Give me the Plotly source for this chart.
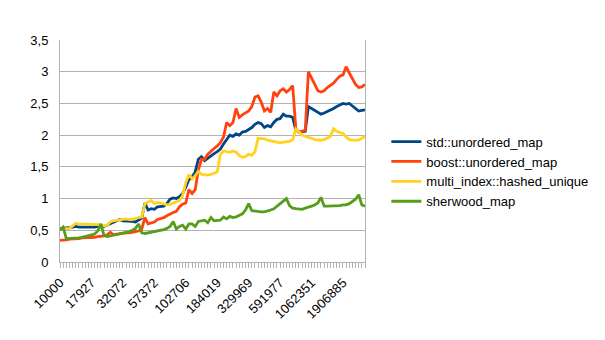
import plotly.graph_objects as go

# Category tick labels shown (every 10th category of the 98 sizes)
tick_labels = ["10000", "17927", "32072", "57372", "102706", "184019",
               "329969", "591977", "1062351", "1906885"]
label_step = 10
n_points = 98

series_names = ["std::unordered_map", "boost::unordered_map",
                "multi_index::hashed_unique", "sherwood_map"]

std_unordered = [
    0.53, 0.53, 0.54, 0.54, 0.55, 0.56, 0.55, 0.55, 0.54, 0.55,
    0.55, 0.55, 0.56, 0.55, 0.56, 0.58, 0.60, 0.62, 0.65, 0.67,
    0.65, 0.65, 0.64, 0.64, 0.63, 0.66, 0.69, 0.93, 0.82, 0.84,
    0.83, 0.87, 0.88, 0.88, 0.92, 0.99, 1.01, 1.00, 1.03, 1.08,
    1.18, 1.30, 1.34, 1.42, 1.62, 1.66, 1.60, 1.64, 1.68, 1.71,
    1.74, 1.78, 1.86, 1.94, 2.00, 1.98, 2.02, 2.00, 2.05, 2.06,
    2.09, 2.12, 2.17, 2.20, 2.18, 2.12, 2.15, 2.13, 2.20, 2.25,
    2.26, 2.33, 2.30, 2.30, 2.28, 2.08, 2.05, 2.05, 2.06, 2.45,
    2.42, 2.38, 2.35, 2.33, 2.35, 2.37, 2.39, 2.42, 2.45, 2.48,
    2.50, 2.49, 2.50, 2.46, 2.42, 2.38, 2.39, 2.40,
]

boost_unordered = [
    0.34, 0.34, 0.35, 0.36, 0.36, 0.37, 0.37, 0.38, 0.38, 0.39,
    0.39, 0.39, 0.40, 0.40, 0.41, 0.43, 0.47, 0.43, 0.44, 0.45,
    0.45, 0.46, 0.46, 0.47, 0.48, 0.49, 0.52, 0.70, 0.60, 0.62,
    0.63, 0.67, 0.68, 0.70, 0.73, 0.76, 0.78, 0.80, 0.87, 0.91,
    0.93, 1.14, 1.08, 1.14, 1.45, 1.62, 1.62, 1.70, 1.75, 1.79,
    1.83, 1.88, 1.97, 2.20, 2.15, 2.20, 2.42, 2.28, 2.32, 2.35,
    2.38, 2.45, 2.60, 2.62, 2.52, 2.38, 2.42, 2.36, 2.68, 2.62,
    2.70, 2.73, 2.68, 2.72, 2.78, 2.10, 2.05, 2.06, 2.08, 3.00,
    2.90, 2.80, 2.70, 2.68, 2.70, 2.75, 2.78, 2.82, 2.88, 2.93,
    2.95, 3.08, 2.98, 2.88, 2.80, 2.75, 2.76, 2.80,
]

multi_index = [
    0.52, 0.52, 0.52, 0.53, 0.57, 0.61, 0.60, 0.60, 0.59, 0.59,
    0.60, 0.59, 0.59, 0.58, 0.57, 0.58, 0.63, 0.65, 0.66, 0.67,
    0.67, 0.68, 0.67, 0.67, 0.69, 0.70, 0.71, 0.92, 0.95, 0.97,
    0.92, 0.94, 0.93, 0.91, 0.90, 0.91, 0.93, 0.95, 0.97, 1.05,
    1.25, 1.38, 1.31, 1.36, 1.43, 1.38, 1.37, 1.37, 1.38, 1.40,
    1.42, 1.70, 1.75, 1.74, 1.73, 1.75, 1.73, 1.68, 1.65, 1.66,
    1.70, 1.68, 1.74, 1.95, 1.95, 1.94, 1.92, 1.91, 1.90, 1.89,
    1.88, 1.89, 1.90, 1.90, 1.93, 2.10, 2.05, 2.00, 1.98, 1.97,
    1.95, 1.93, 1.92, 1.92, 1.93, 1.95, 1.98, 2.10, 2.06, 2.04,
    2.03, 1.97, 1.93, 1.92, 1.92, 1.92, 1.95, 1.98,
]

sherwood = [
    0.50, 0.55, 0.37, 0.37, 0.37, 0.38, 0.38, 0.39, 0.40, 0.41,
    0.42, 0.44, 0.49, 0.60, 0.42, 0.40, 0.41, 0.42, 0.43, 0.44,
    0.45, 0.46, 0.48, 0.50, 0.53, 0.60, 0.46, 0.45, 0.46, 0.47,
    0.47, 0.48, 0.49, 0.51, 0.53, 0.56, 0.64, 0.52, 0.56, 0.58,
    0.52, 0.60, 0.60, 0.56, 0.64, 0.65, 0.66, 0.62, 0.70, 0.65,
    0.65, 0.66, 0.71, 0.68, 0.72, 0.70, 0.71, 0.73, 0.76, 0.82,
    0.92, 0.81, 0.80, 0.80, 0.79, 0.79, 0.80, 0.82, 0.84, 0.88,
    0.93, 0.97, 1.00, 0.89, 0.85, 0.84, 0.83, 0.83, 0.85, 0.86,
    0.88, 0.90, 0.93, 1.02, 0.88, 0.88, 0.88, 0.88, 0.88, 0.89,
    0.90, 0.90, 0.92, 0.95, 0.99, 1.06, 0.90, 0.88,
]

colors = ["#004586", "#ff420e", "#ffd320", "#579d1c"]
all_series = [std_unordered, boost_unordered, multi_index, sherwood]

x_idx = list(range(n_points))
tickvals = x_idx
ticktext = [""] * n_points
for k, lab in enumerate(tick_labels):
    ticktext[k * label_step] = lab

FONT = "Liberation Sans, Arial, sans-serif"
GRID = "#b3b3b3"

fig = go.Figure()
for name, vals, col in zip(series_names, all_series, colors):
    fig.add_trace(go.Scatter(x=x_idx, y=vals, mode="lines", name=name,
                             line=dict(color=col, width=2.8)))

fig.update_layout(
    width=605, height=340,
    margin=dict(l=60, r=235, t=40, b=78),
    paper_bgcolor="white", plot_bgcolor="white",
    separators=",.",
    font=dict(family=FONT, size=13, color="#000000"),
    showlegend=True,
    legend=dict(x=1.07, y=0.61, xanchor="left", yanchor="top",
                font=dict(family=FONT, size=13, color="#000000"),
                tracegroupgap=0, itemwidth=30, bgcolor="rgba(0,0,0,0)"),
)
fig.update_xaxes(
    range=[0, n_points - 1], tickmode="array", tickvals=tickvals,
    ticktext=ticktext, tickangle=-45, ticks="outside", ticklen=5,
    tickcolor=GRID, showgrid=False, showline=True, linecolor=GRID,
    linewidth=1, mirror=False, zeroline=False, ticklabelstandoff=2,
    tickfont=dict(family=FONT, size=13, color="#000000"),
)
fig.update_yaxes(
    range=[0, 3.5], dtick=0.5, tick0=0, showgrid=True, gridcolor=GRID,
    gridwidth=1, showline=True, linecolor=GRID, linewidth=1, mirror=True,
    zeroline=False, ticks="", ticklabelstandoff=8,
    tickfont=dict(family=FONT, size=13, color="#000000"),
)

fig.write_html("out.html")
